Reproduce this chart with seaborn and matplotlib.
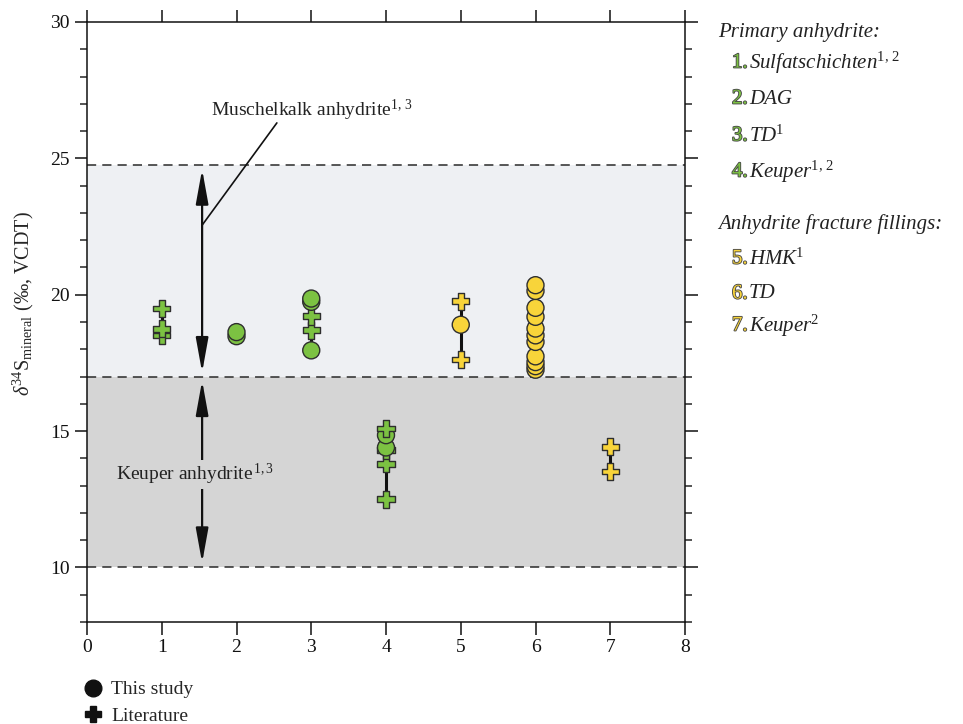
import numpy as np
import pandas as pd
import matplotlib
matplotlib.use("Agg")
import matplotlib.pyplot as plt
import matplotlib.patheffects as pe
from matplotlib.lines import Line2D
from matplotlib.ticker import MultipleLocator
import seaborn as sns

# ---------------- data ----------------
group = [1, 1, 1,
         2, 2,
         3, 3, 3, 3, 3,
         4, 4, 4, 4, 4, 4,
         5, 5, 5,
         6, 6, 6, 6, 6, 6, 6, 6, 6, 6, 6,
         7, 7]
d34s = [19.5, 18.75, 18.5,
        18.63, 18.48,
        19.86, 19.74, 17.96, 19.21, 18.70,
        15.1, 14.3, 13.8, 12.5, 14.85, 14.4,
        19.76, 17.63, 18.9,
        20.35, 20.14, 19.52, 19.19, 18.76, 18.51, 18.27, 17.74, 17.53, 17.38, 17.25,
        14.42, 13.52]
source = ["Literature"] * 3 + ["This study"] * 2 + \
         ["This study"] * 3 + ["Literature"] * 2 + \
         ["Literature"] * 4 + ["This study"] * 2 + \
         ["Literature"] * 2 + ["This study"] + \
         ["This study"] * 11 + ["Literature"] * 2
kind_by_group = {1: "Primary", 2: "Primary", 3: "Primary", 4: "Primary",
                 5: "Fracture", 6: "Fracture", 7: "Fracture"}

muschelkalk_range = [17.0, 24.75]
keuper_range = [10.0, 17.0]

legend_primary = ["Sulfatschichten$^{1,\\,2}$", "DAG", "TD$^{1}$", "Keuper$^{1,\\,2}$"]
legend_fracture = ["HMK$^{1}$", "TD", "Keuper$^{2}$"]

GREEN = "#7cc242"
YELLOW = "#f8d43a"
EDGE = "#2e2e2e"

df = pd.DataFrame({"group": group, "d34s": d34s, "source": source})
df["kind"] = df["group"].map(kind_by_group)
df = df.sort_values("d34s").reset_index(drop=True)

# ---------------- style ----------------
sns.set_style("ticks")
plt.rcParams["font.family"] = ["Liberation Serif", "DejaVu Serif"]
plt.rcParams["mathtext.fontset"] = "custom"
plt.rcParams["mathtext.rm"] = "Liberation Serif"
plt.rcParams["mathtext.it"] = "Liberation Serif:italic"
plt.rcParams["mathtext.bf"] = "Liberation Serif:bold"

fig = plt.figure(figsize=(9.63, 7.24), dpi=100)
ax = fig.add_axes([87 / 963, 1 - 622 / 724, 598 / 963, 600 / 724])

# background bands
ax.axhspan(muschelkalk_range[0], muschelkalk_range[1], color="#eef0f3", zorder=0, lw=0)
ax.axhspan(keuper_range[0], keuper_range[1], color="#d5d5d5", zorder=0, lw=0)
for yv in [muschelkalk_range[1], muschelkalk_range[0], keuper_range[0]]:
    ax.axhline(yv, color="#2a2a2a", lw=1.1, ls=(0, (6, 4)), zorder=1)

# range lines per group
rng = df.groupby("group")["d34s"].agg(["min", "max"]).reset_index()
ax.vlines(rng["group"], rng["min"], rng["max"], color="#111111", lw=2.2, zorder=2)

sns.scatterplot(data=df, x="group", y="d34s", hue="kind", style="source",
                palette={"Primary": GREEN, "Fracture": YELLOW},
                markers={"This study": "o", "Literature": "P"},
                s=150, edgecolor=EDGE, linewidth=1.0, legend=False, ax=ax, zorder=3)

ax.set_xlim(0, 8)
ax.set_ylim(8, 30)
ax.xaxis.set_major_locator(MultipleLocator(1))
ax.yaxis.set_major_locator(MultipleLocator(5))
ax.yaxis.set_minor_locator(MultipleLocator(1))
ax.tick_params(axis="both", which="major", direction="out", length=9, width=1.1,
               labelsize=14, top=True, right=True, colors="#111111")
ax.tick_params(axis="both", which="minor", direction="out", length=5, width=1.1,
               top=False, right=True, bottom=False)
for sp in ax.spines.values():
    sp.set_visible(True)
    sp.set_linewidth(1.1)
    sp.set_color("#111111")
ax.set_xlabel("")
ax.set_ylabel("$\\delta^{34}$S$_{\\mathrm{mineral}}$ (‰, VCDT)", fontsize=14.5)
ax.yaxis.set_label_coords(-0.085, 0.53)

# arrows
arrow_kw = dict(arrowstyle="<|-|>,head_length=1.05,head_width=0.19", color="#111111",
                lw=1.6, shrinkA=0, shrinkB=0, mutation_scale=20)
ax.annotate("", xy=(1.54, 24.6), xytext=(1.54, 17.15), arrowprops=arrow_kw, zorder=2)
ax.annotate("", xy=(1.54, 16.85), xytext=(1.54, 10.17), arrowprops=arrow_kw, zorder=2)
ax.plot([2.54, 1.54], [26.3, 22.55], color="#111111", lw=1.2, zorder=2)
ax.text(3.01, 26.77, "Muschelkalk anhydrite$^{1,\\,3}$", fontsize=14,
        ha="center", va="center", color="#222222", zorder=4)
ax.text(1.44, 13.41, "Keuper anhydrite$^{\\,1,3}$", fontsize=14, ha="center", va="center",
        color="#222222", zorder=4,
        bbox=dict(facecolor="#d5d5d5", edgecolor="none", pad=1.5))

# bottom legend
handles = [Line2D([], [], marker="o", color="#111111", ls="", markersize=12),
           Line2D([], [], marker="P", color="#111111", ls="", markersize=12)]
ax.legend(handles, ["This study", "Literature"], loc="upper left",
          bbox_to_anchor=(-0.02, -0.085), frameon=False, fontsize=14,
          handlelength=1.0, handletextpad=0.45, labelspacing=0.45, borderaxespad=0)

# right legend
def W(px):
    return px / 963

def H(py):
    return 1 - py / 724

fig.text(W(718), H(33), "Primary anhydrite:", style="italic", fontsize=15,
         va="center", ha="left", color="#222222")
fig.text(W(718), H(224), "Anhydrite fracture fillings:", style="italic", fontsize=15,
         va="center", ha="left", color="#222222")
stroke = [pe.withStroke(linewidth=1.3, foreground="#4a4a4a")]
for i, (lab, yy) in enumerate(zip(legend_primary, [63, 99, 136, 172])):
    fig.text(W(732), H(yy), f"{i + 1}.", fontsize=15, color=GREEN, va="center",
             ha="left", path_effects=stroke)
    fig.text(W(749), H(yy), lab, fontsize=15, style="italic", va="center",
             ha="left", color="#222222")
for j, (lab, yy) in enumerate(zip(legend_fracture, [259, 294, 326])):
    fig.text(W(732), H(yy), f"{j + 5}.", fontsize=15, color=YELLOW, va="center",
             ha="left", path_effects=stroke)
    fig.text(W(749), H(yy), lab, fontsize=15, style="italic", va="center",
             ha="left", color="#222222")

fig.savefig("out.png", dpi=100, facecolor="white")
